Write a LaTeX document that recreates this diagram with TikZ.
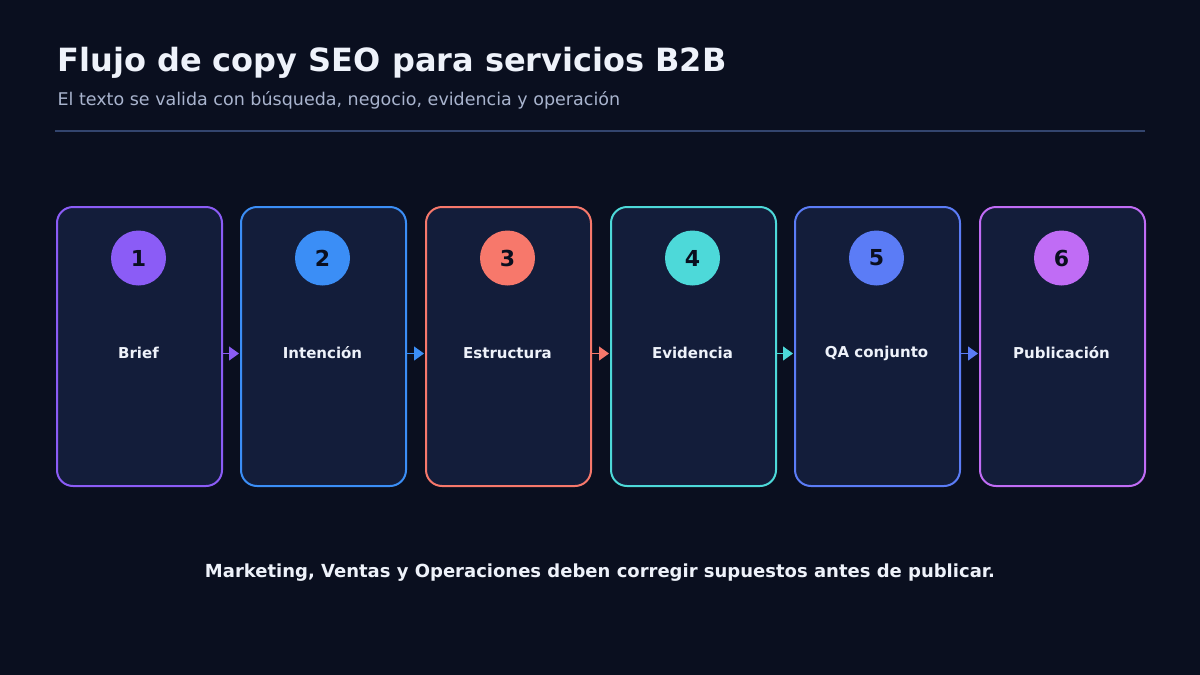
\documentclass[tikz,border=0pt]{standalone}
\usepackage{fontspec}
\setmainfont{DejaVu Sans}
\usetikzlibrary{arrows.meta}
\definecolor{bg}{HTML}{0A0F1F}
\definecolor{cardf}{HTML}{131D3A}
\definecolor{c1}{HTML}{8B5CF6}
\definecolor{c2}{HTML}{3B8EF6}
\definecolor{c3}{HTML}{F7786B}
\definecolor{c4}{HTML}{4DD9D9}
\definecolor{c5}{HTML}{5B7CF6}
\definecolor{c6}{HTML}{C06CF5}
\definecolor{sub}{HTML}{A9B4CE}
\definecolor{rule}{HTML}{33456E}
\definecolor{txt}{HTML}{EEF2FA}
\begin{document}
\begin{tikzpicture}[x=1pt,y=-1pt,
  card/.style={draw=#1,line width=2pt,fill=cardf,rounded corners=16pt,minimum width=165pt,minimum height=279pt,anchor=north west},
  num/.style={circle,fill=#1,minimum size=55pt,inner sep=0pt,text=bg,font=\bfseries\fontsize{22}{24}\selectfont},
  lab/.style={text=txt,font=\bfseries\fontsize{15}{18}\selectfont},
  arr/.style={draw=#1,line width=1.2pt,-{Triangle[length=10pt,width=14pt]},shorten >=1pt}]
\fill[bg] (0,0) rectangle (1200,675);
\useasboundingbox (0,0) rectangle (1200,675);
\node[anchor=base west,text=txt,font=\bfseries\fontsize{32}{36}\selectfont] (title) at (54,71) {Flujo de copy SEO para servicios B2B};
\node[anchor=base west,text=sub,font=\fontsize{17.5}{20}\selectfont] (subt) at (54,105) {El texto se valida con búsqueda, negocio, evidencia y operación};
\coordinate (r1) at (55,131); \coordinate (r2) at (1145,131);
\draw[rule,line width=1.5pt] (r1) -- (r2);
\foreach \i/\x/\c/\t in {1/56/c1/Brief,2/240/c2/Intención,3/425/c3/Estructura,4/610/c4/Evidencia,5/794/c5/QA conjunto,6/979/c6/Publicación}{
  \node[card=\c] (k\i) at (\x,206) {};
  \node[num=\c] (n\i) at (\x+82.5,258) {\raisebox{-3pt}{\i}};
  \node[lab] (l\i) at (\x+82.5,353) {\t};
}
\foreach \a/\b/\c in {1/2/c1,2/3/c2,3/4/c3,4/5/c4,5/6/c5}{
  \draw[arr=\c] ([yshift=-7pt]k\a.east) -- ([yshift=-7pt]k\b.west);
}
\node[text=txt,font=\bfseries\fontsize{18}{22}\selectfont] (foot) at (600,573) {Marketing, Ventas y Operaciones deben corregir supuestos antes de publicar.};
\end{tikzpicture}
\end{document}
